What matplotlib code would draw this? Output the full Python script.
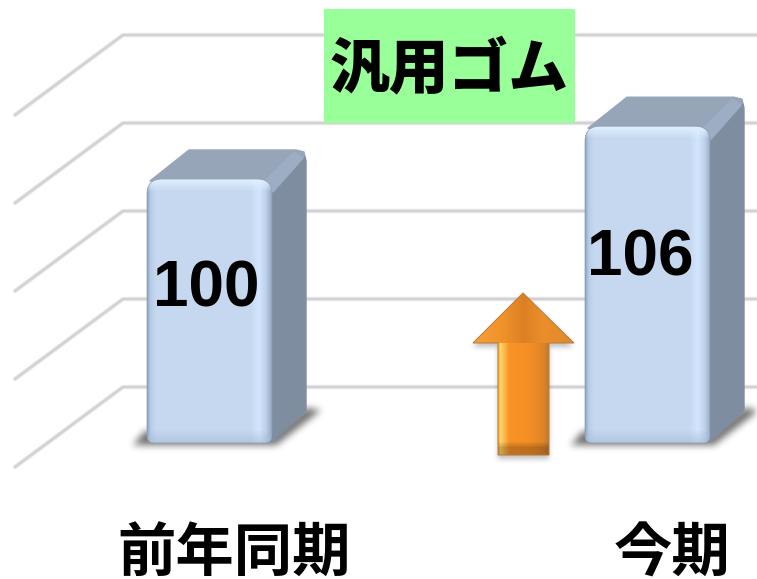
import numpy as np
import matplotlib
matplotlib.use("Agg")
import matplotlib.pyplot as plt
from matplotlib.path import Path
from matplotlib.patches import PathPatch, Polygon, Rectangle

# Data
categories = ["前年同期", "今期"]
values = [100, 106]
value_labels = ["100", "106"]
grid_values = [70, 80, 90, 100, 110]
title_text = "汎用ゴム"

jp_font = ["Noto Sans CJK JP", "DejaVu Sans"]

# Scale: one category = 438 px, ten units = 88 px, x=0 is the first bar
px_x, px_y = 438.0, 8.8
base_value = 70
base_py = 443.0


def to_x(px):
    return (px - 209.5) / px_x


def to_y(py):
    return base_value + (base_py - py) / px_y


def pts(pairs):
    return [(to_x(a), to_y(b)) for a, b in pairs]


def hex_rgb(c):
    return np.array(matplotlib.colors.to_rgb(c))


def ramp(t, stops, colors):
    rgb = np.array([hex_rgb(c) for c in colors])
    return np.stack([np.interp(t, stops, rgb[:, i]) for i in range(3)], axis=-1)


def blur(a, n):
    kernel = np.ones(2 * n + 1) / (2 * n + 1)
    for _ in range(3):
        a = np.apply_along_axis(lambda r: np.convolve(r, kernel, mode="same"), 0, a)
        a = np.apply_along_axis(lambda r: np.convolve(r, kernel, mode="same"), 1, a)
    return a


def shadow(ax, poly, n, strength, zorder):
    xs, ys = np.meshgrid(np.arange(757) + 0.5, np.arange(579) + 0.5)
    inside = Path(poly).contains_points(np.c_[xs.ravel(), ys.ravel()]).reshape(xs.shape)
    alpha = blur(inside.astype(float), n) * strength
    img = np.zeros((579, 757, 4))
    img[..., :3] = 0.3
    img[..., 3] = alpha
    ax.imshow(img, extent=(to_x(0), to_x(757), to_y(579), to_y(0)), origin="upper",
              aspect="auto", zorder=zorder, interpolation="bilinear")


def rounded(x0, x1, top, bottom, r, rb):
    # rounded rectangle in pixel values, returned as a data path
    verts = [(x0 + rb, bottom), (x1 - rb, bottom), (x1, bottom), (x1, bottom - rb),
             (x1, top + r), (x1, top), (x1 - r, top), (x0 + r, top), (x0, top),
             (x0, top + r), (x0, bottom - rb), (x0, bottom), (x0 + rb, bottom), (x0 + rb, bottom)]
    codes = [Path.MOVETO, Path.LINETO, Path.CURVE3, Path.CURVE3, Path.LINETO, Path.CURVE3, Path.CURVE3,
             Path.LINETO, Path.CURVE3, Path.CURVE3, Path.LINETO, Path.CURVE3, Path.CURVE3, Path.CLOSEPOLY]
    return Path(pts(verts), codes)


fig = plt.figure(figsize=(7.57, 5.79), dpi=100)
ax = fig.add_axes([0, 0, 1, 1])

# Gridlines on the back wall and the left wall
for g in grid_values:
    back_py = base_py - (g - base_value) * px_y - 56
    front_py = back_py + 80
    line_x = [to_x(15), to_x(123), to_x(757)]
    line_y = [to_y(front_py), to_y(back_py), to_y(back_py)]
    ax.plot(line_x, line_y, color="#E8E8E8", lw=3.2, zorder=1, solid_capstyle="round", solid_joinstyle="round")
    ax.plot(line_x, line_y, color="#D2D2D2", lw=1.7, zorder=1.1, solid_capstyle="round", solid_joinstyle="round")

# Bars
bar_width = 125 / px_x
depth_x, depth_y = 34, 30
for i, v in enumerate(values):
    left = to_x(147) + i
    x0 = 147 + i * px_x
    x1 = x0 + 125
    top = base_py - (v - base_value) * px_y
    right = x1 + depth_x

    shadow(ax, [(x0 - 14, base_py + 2), (x0 - 2, base_py - 12), (x1, base_py - 8), (right, base_py - depth_y - 5),
                (right + 15, base_py - depth_y - 3), (x1 + 4, base_py + 2)], 3, 0.8, 2)

    # top and side faces
    ax.add_patch(Polygon(pts([(x0 + 3, top + 2), (x0 + 42, top - depth_y + 1), (right - 10, top - depth_y + 1),
                              (right - 2, top - depth_y + 3), (right, top - depth_y + 12), (x1, top + 8)]),
                         closed=True, fc="#96A5B8", ec="#96A5B8", lw=1, joinstyle="round", zorder=3))
    ax.add_patch(Polygon(pts([(x1, top + 8), (right - 1, top - depth_y + 8), (right, top - depth_y + 14),
                              (right, base_py - depth_y - 3), (x1, base_py - 1)]),
                         closed=True, fc="#7E8DA0", ec="#7E8DA0", lw=1, joinstyle="round", zorder=3.1))
    ax.add_patch(Polygon(pts([(x1 - 8, top + 2), (right - 12, top - depth_y + 2), (right - 2, top - depth_y + 9),
                              (x1 + 1, top + 14)]),
                         closed=True, fc="#9DAEC4", ec="none", zorder=3.2))

    # front face with a soft bevel
    t_x = np.linspace(0, 1, 125)
    t_y = np.linspace(0, 1, int(base_py - top))
    row = ramp(t_x, [0, 0.025, 0.07, 0.83, 0.9, 0.955, 1],
               ["#8FA5C0", "#B6CCE6", "#C6D8F0", "#C6D8F0", "#D3E6FF", "#BDD1EA", "#98ABC4"])
    face = np.repeat(row[None, :, :], len(t_y), axis=0)
    top_mix = np.clip(1 - np.arange(len(t_y)) / 12.0, 0, 1)[:, None, None]
    face = face * (1 - top_mix) + hex_rgb("#E0F0FF") * top_mix
    bot_mix = np.clip((np.arange(len(t_y)) - (len(t_y) - 14)) / 14.0, 0, 1)[:, None, None]
    face = face * (1 - 0.6 * bot_mix) + hex_rgb("#A3B8D2") * 0.6 * bot_mix
    im = ax.imshow(face, extent=(left, left + bar_width, to_y(base_py), to_y(top)), origin="upper",
                   aspect="auto", zorder=4, interpolation="bilinear")
    outline = PathPatch(rounded(x0, x1, top, base_py, 15, 7), fc="none", ec="#8C9DB4", lw=0.5, zorder=4.1)
    ax.add_patch(outline)
    im.set_clip_path(outline)

    ax.text(i + 25 / px_x, to_y(555), categories[i], family=jp_font, fontsize=42, fontweight="bold",
            ha="center", va="center", color="black", zorder=8)

# Value labels sit inside the bars
label_px = [(206, 289), (640, 258)]
for lab, (a, b) in zip(value_labels, label_px):
    ax.text(to_x(a), to_y(b), lab, family="Liberation Sans", fontsize=46, fontweight="bold",
            ha="center", va="center", color="black", zorder=8)

# Title box
ax.add_patch(Rectangle((to_x(324), to_y(123)), 251 / px_x, 114 / px_y, fc="#99FF99", ec="none", zorder=6))
ax.text(to_x(449), to_y(70), title_text, family=jp_font, fontsize=43, fontweight="black",
        ha="center", va="center", color="black", zorder=8)

# Orange arrow
arrow_px = [(523, 293), (574, 343), (549, 343), (549, 455), (498, 455), (498, 343), (473, 343)]
shadow(ax, [(a, b + 4) for a, b in arrow_px], 2, 0.35, 5)
arrow_img = np.zeros((162, 101, 3))
t_x = np.linspace(0, 1, 101)
head = ramp(t_x, [0, 0.3, 0.5, 0.7, 1], ["#F6A03A", "#F0922A", "#DB8024", "#EC8E2A", "#DE8A30"])
shaft = ramp(t_x, [0.25, 0.27, 0.3, 0.36, 0.55, 0.7, 0.75],
             ["#F7B043", "#FFD568", "#FDC050", "#F79327", "#F58F25", "#E08428", "#C07A30"])
arrow_img[:50] = head
arrow_img[50:] = shaft
# soft darker bevel at the foot of the shaft
foot = np.clip((np.arange(162) - 148) / 6.0, 0, 1)[:, None, None]
arrow_img = arrow_img * (1 - 0.22 * foot)
im = ax.imshow(arrow_img, extent=(to_x(473), to_x(574), to_y(455), to_y(293)), origin="upper",
               aspect="auto", zorder=5.5, interpolation="bilinear")
arrow_edge = Polygon(pts(arrow_px), closed=True, fc="none", ec="#B87A3A", lw=0.7, zorder=5.6)
ax.add_patch(arrow_edge)
im.set_clip_path(arrow_edge)

ax.set_xlim(to_x(0), to_x(757))
ax.set_ylim(to_y(579), to_y(0))
ax.axis("off")

fig.savefig("out.png", dpi=100, facecolor="white")
